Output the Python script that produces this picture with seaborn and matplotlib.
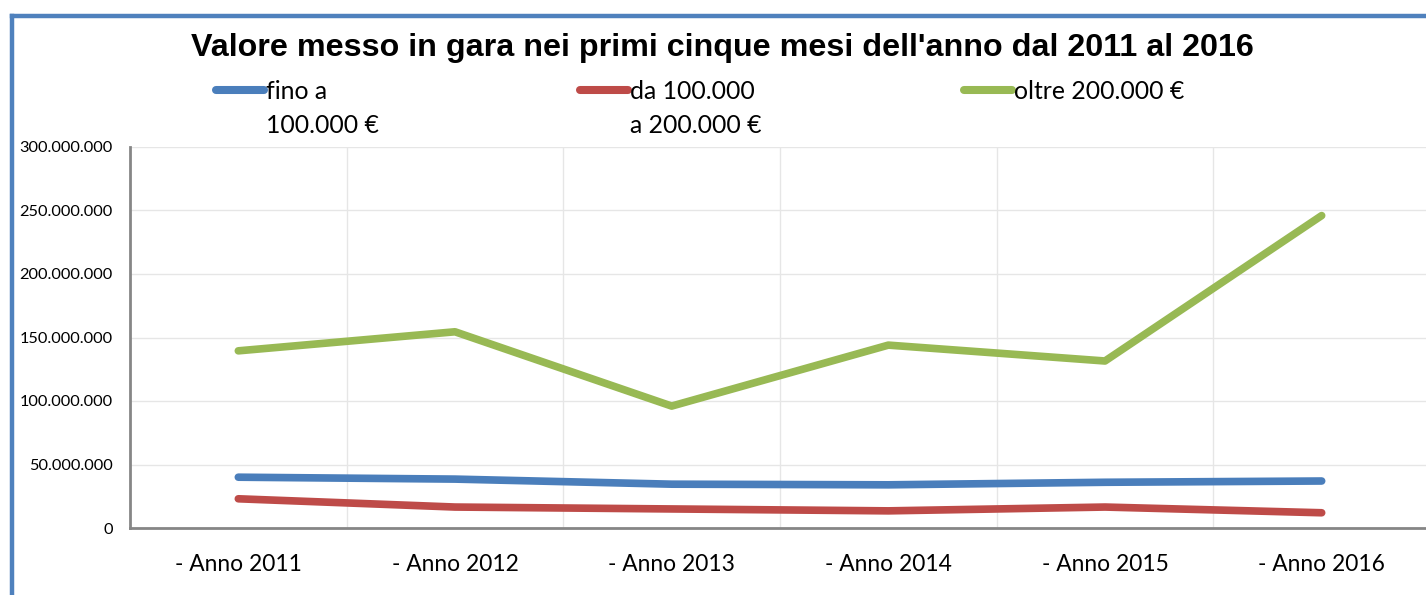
import matplotlib
matplotlib.use("Agg")
import matplotlib.pyplot as plt
from matplotlib.lines import Line2D
from matplotlib.ticker import FuncFormatter, MultipleLocator
import seaborn as sns
import pandas as pd


# -------------------- Data --------------------

anni = ["- Anno 2011", "- Anno 2012", "- Anno 2013", "- Anno 2014", "- Anno 2015", "- Anno 2016"]
fino_100k = [40_000_000, 38_500_000, 34_500_000, 34_000_000, 36_000_000, 37_000_000]
da_100k_a_200k = [23_000_000, 16_500_000, 15_000_000, 13_500_000, 16_500_000, 12_000_000]
oltre_200k = [139_500_000, 154_500_000, 96_000_000, 144_000_000, 131_500_000, 246_000_000]

serie = ["fino a\n100.000 €", "da 100.000\na 200.000 €", "oltre 200.000 €"]
colori = ["#4A7EBB", "#BE4B48", "#98B954"]

df = pd.DataFrame({
    "anno": anni * 3,
    "x": list(range(len(anni))) * 3,
    "valore": fino_100k + da_100k_a_200k + oltre_200k,
    "serie": [s for s in serie for _ in anni],
})

# -------------------- Plot --------------------

sns.set_theme(style="white")
plt.rcParams["font.family"] = ["Lato", "DejaVu Sans"]
plt.rcParams["text.color"] = "black"
plt.rcParams["xtick.color"] = "black"
plt.rcParams["ytick.color"] = "black"

fig = plt.figure(figsize=(14.26, 5.95), dpi=100)
fig.patch.set_facecolor("white")
ax = fig.add_axes([130 / 1426, 1 - 528 / 595, 1300 / 1426, 381 / 595])

sns.lineplot(
    data=df, x="x", y="valore", hue="serie", hue_order=serie,
    palette=colori, linewidth=5.5, sort=False, legend=False, ax=ax,
)
for line in ax.get_lines():
    line.set_solid_capstyle("round")
    line.set_solid_joinstyle("round")

ax.set_xlim(-0.5, len(anni) - 0.5)
ax.set_ylim(0, 300_000_000)
ax.yaxis.set_major_locator(MultipleLocator(50_000_000))
ax.yaxis.set_major_formatter(FuncFormatter(lambda v, p: f"{int(v):,}".replace(",", ".")))
ax.set_xticks(range(len(anni)))
ax.set_xticklabels(anni)
ax.set_xticks([i + 0.5 for i in range(len(anni))], minor=True)
ax.tick_params(axis="x", which="both", length=0, labelsize=16.4, pad=19)
ax.tick_params(axis="y", length=0, labelsize=11.8, pad=12.5)
ax.set_xlabel("")
ax.set_ylabel("")

ax.grid(True, axis="y", color="#E6E6E6", linewidth=1)
ax.grid(True, axis="x", which="minor", color="#E6E6E6", linewidth=1)
ax.set_axisbelow(True)
for side in ["top", "right"]:
    ax.spines[side].set_visible(False)
for side in ["left", "bottom"]:
    ax.spines[side].set_color("#868686")
    ax.spines[side].set_linewidth(2)

# title
fig.text(722 / 1426, 1 - 48 / 595, "Valore messo in gara nei primi cinque mesi dell'anno dal 2011 al 2016",
         ha="center", va="center", fontsize=23.2, fontweight="bold", family="Liberation Sans",
         color="black")

# legend, drawn by hand to keep the wrapped labels
leg_x = [216, 580, 964]
for lx, nome, col in zip(leg_x, serie, colori):
    fig.add_artist(Line2D([lx / 1426, (lx + 48) / 1426], [1 - 90 / 595] * 2,
                          transform=fig.transFigure, color=col, linewidth=5.8,
                          solid_capstyle="round"))
    fig.text((lx + 50) / 1426, 1 - 80 / 595, nome, ha="left", va="top",
             fontsize=17.8, linespacing=1.6, color="black")

# blue frame around the chart
frame = "#4F81BD"
fig.add_artist(Line2D([12 / 1426, 12 / 1426], [0, 1 - 16 / 595], transform=fig.transFigure,
                      color=frame, linewidth=3.2, solid_capstyle="projecting"))
fig.add_artist(Line2D([12 / 1426, 1], [1 - 16 / 595] * 2, transform=fig.transFigure,
                      color=frame, linewidth=3.2, solid_capstyle="projecting"))

fig.savefig("out.png", dpi=100, facecolor="white")
